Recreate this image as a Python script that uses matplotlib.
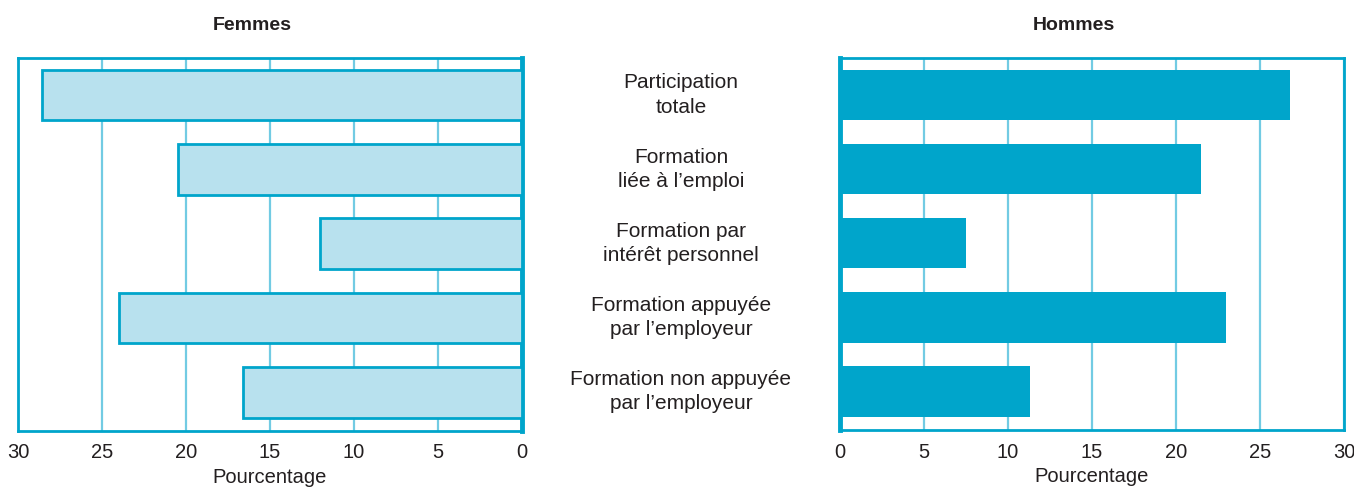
import matplotlib.pyplot as plt
from matplotlib.transforms import blended_transform_factory
import numpy as np

categories = ["Participation\ntotale",
              "Formation\nliée à l\u2019emploi",
              "Formation par\nintérêt personnel",
              "Formation appuyée\npar l\u2019employeur",
              "Formation non appuyée\npar l\u2019employeur"]
femmes = [28.6, 20.5, 12.0, 24.0, 16.6]
hommes = [26.8, 21.5, 7.5, 23.0, 11.3]
ticks = [0, 5, 10, 15, 20, 25, 30]

plt.rcParams['font.family'] = ['Liberation Sans', 'DejaVu Sans']

dark = '#00a5cb'
light = '#b8e1ee'
gridc = '#72cbe3'
txt = '#231f20'

fig = plt.figure(figsize=(13.54, 4.88), dpi=100)
axL = fig.add_axes([18 / 1354, 57 / 488, 504 / 1354, 373 / 488])
axR = fig.add_axes([840 / 1354, 58 / 488, 504 / 1354, 372 / 488])

y = np.arange(len(categories))

axL.barh(y, femmes, height=0.68, color=light, edgecolor=dark, linewidth=2, zorder=3)
axR.barh(y, hommes, height=0.68, color=dark, edgecolor='none', zorder=3)

for ax, title in [(axL, 'Femmes'), (axR, 'Hommes')]:
    ax.set_xlim(0, 30)
    ax.set_ylim(4.52, -0.5)
    ax.set_xticks(ticks)
    ax.set_xticklabels([str(t) for t in ticks], fontsize=14.5, color=txt)
    ax.set_yticks([])
    ax.tick_params(axis='x', length=0, pad=9)
    ax.grid(axis='x', color=gridc, linewidth=1.6, zorder=0)
    for s in ax.spines.values():
        s.set_color(dark)
        s.set_linewidth(2)
    ax.set_xlabel('Pourcentage', fontsize=14.5, color=txt, labelpad=4)
    ax.set_title(title, fontsize=14, fontweight='bold', color=txt, pad=20, x=0.465)

axL.invert_xaxis()
axL.spines['right'].set_linewidth(3.5)
axR.spines['left'].set_linewidth(3.5)

tr = blended_transform_factory(fig.transFigure, axR.transData)
for yi, lab in zip(y, categories):
    axR.text(681 / 1354, yi, lab, transform=tr, ha='center', va='center',
             fontsize=15, color=txt, linespacing=1.35)

fig.savefig('out.png', dpi=100)
